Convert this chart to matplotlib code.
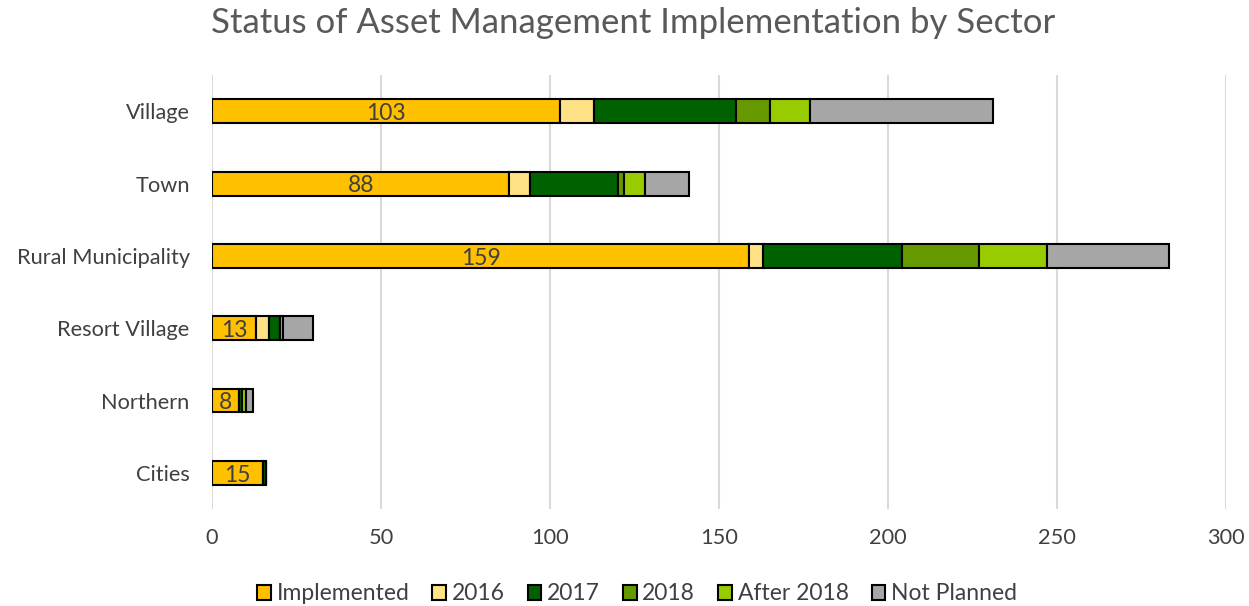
import numpy as np
import matplotlib.pyplot as plt

plt.rcParams['font.family'] = ['Lato', 'DejaVu Sans']

sectors = ['Village', 'Town', 'Rural Municipality', 'Resort Village', 'Northern', 'Cities']
series = ['Implemented', '2016', '2017', '2018', 'After 2018', 'Not Planned']
implemented = [103, 88, 159, 13, 8, 15]
y2016 = [10, 6, 4, 4, 0, 0]
y2017 = [42, 26, 41, 3, 1, 1]
y2018 = [10, 2, 23, 0, 0, 0]
after2018 = [12, 6, 20, 1, 1, 0]
not_planned = [54, 13, 36, 9, 2, 0]
colors = ['#FFC000', '#FFE285', '#006100', '#669900', '#99CC00', '#A6A6A6']

values = [implemented, y2016, y2017, y2018, after2018, not_planned]

fig = plt.figure(figsize=(12.49, 6.06), dpi=100)
ax = fig.add_axes([0.1697, 0.16, 0.812, 0.716])

ypos = np.arange(len(sectors))
left = np.zeros(len(sectors))
for name, vals, col in zip(series, values, colors):
    vals = np.array(vals, dtype=float)
    ax.barh(ypos, vals, left=left, height=0.33, color=col, edgecolor='black',
            linewidth=1.5, label=name, zorder=3)
    left += vals

for y, v in zip(ypos, implemented):
    ax.text(v / 2, y + 0.03, str(v), ha='center', va='center', fontsize=16.5,
            color='#404040', zorder=4)

ax.set_xlim(0, 300)
ax.set_ylim(5.5, -0.5)
ax.set_xticks(np.arange(0, 301, 50))
ax.set_yticks(ypos)
ax.set_yticklabels(sectors)
ax.tick_params(axis='both', length=0, labelsize=15.7, colors='#404040')
ax.tick_params(axis='x', pad=14)
ax.tick_params(axis='y', pad=16)
ax.xaxis.grid(True, color='#D9D9D9', linewidth=1.5, zorder=0)
for s in ax.spines.values():
    s.set_visible(False)

fig.suptitle('Status of Asset Management Implementation by Sector', fontsize=25,
             color='#595959', y=0.988, x=0.507)

handles, labels = ax.get_legend_handles_labels()
fig.legend(handles, labels, loc='center', bbox_to_anchor=(0.51, 0.02), ncol=6,
           frameon=False, fontsize=16.5, handlelength=0.6, handleheight=0.6,
           handletextpad=0.25, columnspacing=1.0, labelcolor='#404040')

fig.savefig('out.png', dpi=100)
